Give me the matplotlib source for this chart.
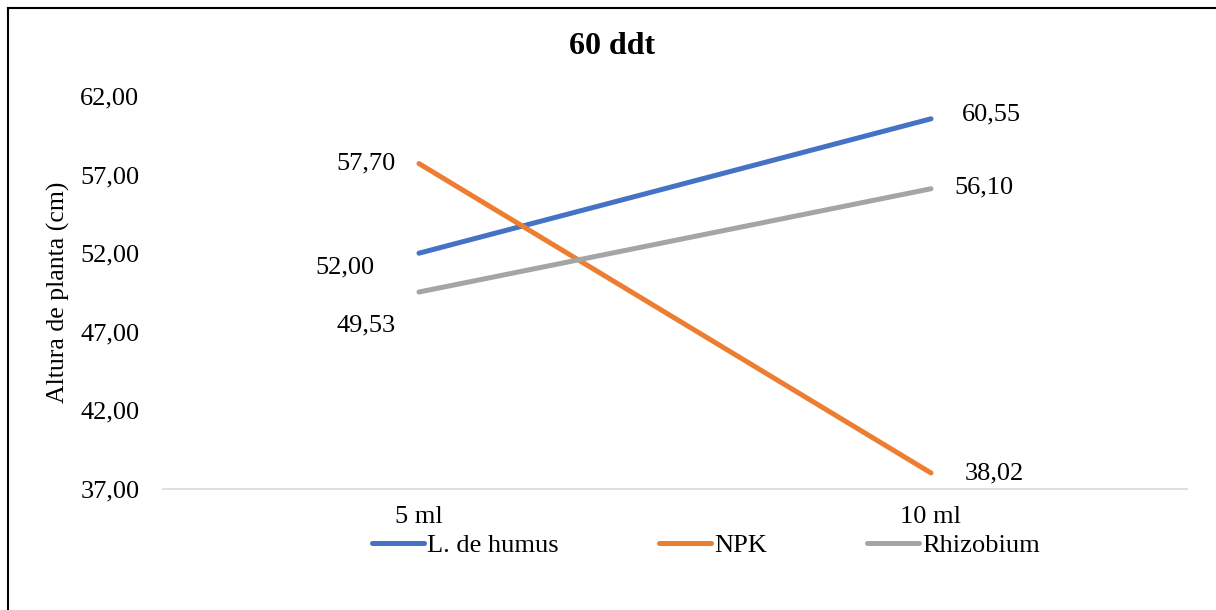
import matplotlib.pyplot as plt
from matplotlib.lines import Line2D

plt.rcParams['font.family'] = ['Liberation Serif', 'DejaVu Serif']

# Plant height at 60 days after transplant, by dose
doses = ['5 ml', '10 ml']
humus = [52.00, 60.55]
npk = [57.70, 38.02]
rhizobium = [49.53, 56.10]

series = [
    ('L. de humus', humus, '#4472C4'),
    ('NPK', npk, '#ED7D31'),
    ('Rhizobium', rhizobium, '#A5A5A5'),
]

# label offsets (points) for each series at each dose
label_offsets = {
    'L. de humus': [(-32, -10, 'right'), (22, 3, 'left')],
    'NPK': [(-17, 0, 'right'), (24, 0, 'left')],
    'Rhizobium': [(-17, -24, 'right'), (17, 1, 'left')],
}

fig = plt.figure(figsize=(12.16, 6.10), dpi=100)
ax = fig.add_axes([163 / 1216, 1 - 489 / 610, 1024 / 1216, 393 / 610])

x = list(range(len(doses)))
for name, vals, col in series:
    ax.plot(x, vals, color=col, lw=3.6, solid_capstyle='round', label=name)
    for xi, v, (dx, dy, ha) in zip(x, vals, label_offsets[name]):
        ax.annotate(f'{v:.2f}'.replace('.', ','), (xi, v), xytext=(dx, dy),
                    textcoords='offset points', ha=ha, va='center', fontsize=19)

ax.set_xlim(-0.5, 1.5)
ax.set_ylim(37, 62)
yticks = [37, 42, 47, 52, 57, 62]
ax.set_yticks(yticks)
ax.set_yticklabels([f'{t:.2f}'.replace('.', ',') for t in yticks])
ax.set_xticks(x)
ax.set_xticklabels(doses)
ax.tick_params(axis='y', length=0, pad=17, labelsize=19)
ax.tick_params(axis='x', length=0, pad=12, labelsize=19)

for s in ['top', 'right', 'left']:
    ax.spines[s].set_visible(False)
ax.spines['bottom'].set_color('#D9D9D9')
ax.spines['bottom'].set_linewidth(1.2)

ax.set_ylabel('Altura de planta (cm)', fontsize=18.5)
ax.yaxis.set_label_coords(-0.0905, 0.5)

fig.text(0.503, 1 - 47 / 610, '60 ddt', ha='center', va='center',
         fontsize=23, fontweight='bold')

leg = ax.legend(loc='center', bbox_to_anchor=(706 / 1216, 1 - 545 / 610),
                bbox_transform=fig.transFigure, ncol=3, frameon=False,
                fontsize=19, handlelength=1.97, handletextpad=0.12,
                columnspacing=3.8, borderpad=0)

# outer frame
fig.add_artist(Line2D([7.5 / 1216, 7.5 / 1216], [0, 1 - 7.5 / 610],
                      transform=fig.transFigure, color='black', lw=1.5))
fig.add_artist(Line2D([7.5 / 1216, 1], [1 - 7.5 / 610, 1 - 7.5 / 610],
                      transform=fig.transFigure, color='black', lw=1.5))

fig.savefig('out.png', dpi=100)
